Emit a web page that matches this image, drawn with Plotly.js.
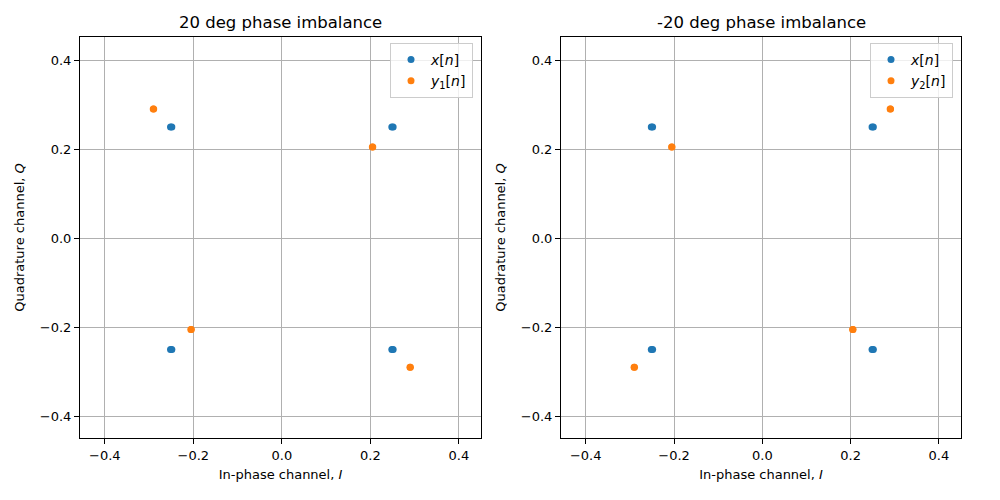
<!DOCTYPE html>
<html>
<head>
<meta charset="utf-8">
<script src="https://cdn.plot.ly/plotly-3.0.1.min.js"></script>
<style>html,body{margin:0;padding:0;background:#fff;} #chart{width:1000px;height:500px;}</style>
</head>
<body>
<div id="chart"></div>
<script>
// Reference QPSK symbols x[n]
const xI = [-0.2515, -0.2485, 0.2485, 0.2515, -0.2515, -0.2485, 0.2485, 0.2515];
const xQ = [0.25, 0.25, 0.25, 0.25, -0.25, -0.25, -0.25, -0.25];
// 20 deg phase imbalance y1[n]
const y1I = [-0.2905, -0.2895, 0.2045, 0.2055, -0.2055, -0.2045, 0.2895, 0.2905];
const y1Q = [0.29, 0.29, 0.205, 0.205, -0.205, -0.205, -0.29, -0.29];
// -20 deg phase imbalance y2[n]
const y2I = [-0.2055, -0.2045, 0.2895, 0.2905, -0.2905, -0.2895, 0.2045, 0.2055];
const y2Q = [0.205, 0.205, 0.29, 0.29, -0.29, -0.29, -0.205, -0.205];

const titles = ["20 deg phase imbalance", "-20 deg phase imbalance"];
const tickVals = [-0.4, -0.2, 0.0, 0.2, 0.4];
const tickText = ["\u22120.4", "\u22120.2", "0.0", "0.2", "0.4"];

const blue = "#1f77b4", orange = "#ff7f0e";
const font = {family: "DejaVu Sans, sans-serif", size: 13, color: "#000"};

function tr(x, y, name, color, xa, ya, leg) {
  return {x: x, y: y, type: "scatter", mode: "markers", name: name,
    marker: {color: color, size: 7}, xaxis: xa, yaxis: ya, legend: leg};
}
const data = [
  tr(xI, xQ, "<i>x</i>[<i>n</i>]", blue, "x", "y", "legend"),
  tr(y1I, y1Q, "<i>y</i><sub>1</sub>[<i>n</i>]", orange, "x", "y", "legend"),
  tr(xI, xQ, "<i>x</i>[<i>n</i>]", blue, "x2", "y2", "legend2"),
  tr(y2I, y2Q, "<i>y</i><sub>2</sub>[<i>n</i>]", orange, "x2", "y2", "legend2")
];

function ax(domain, anchor, title, standoff) {
  return {domain: domain, anchor: anchor, range: [-0.456, 0.45],
    tickvals: tickVals, ticktext: tickText, ticks: "outside", ticklen: 5, tickwidth: 1,
    tickcolor: "#000", showline: true, linecolor: "#000", linewidth: 1, mirror: true,
    showgrid: true, gridcolor: "#b0b0b0", gridwidth: 1, zeroline: false,
    tickfont: font, title: {text: title, font: font, standoff: standoff}};
}
function legendCfg(x) {
  return {x: x, y: 0.914, xanchor: "right", yanchor: "top", xref: "paper", yref: "paper",
    bgcolor: "rgba(255,255,255,0.8)", bordercolor: "#cccccc", borderwidth: 1,
    font: {family: "DejaVu Sans, sans-serif", size: 14, color: "#000"}, itemwidth: 30,
    tracegroupgap: 4};
}

const layout = {
  width: 1000, height: 500, margin: {l: 0, r: 0, t: 0, b: 0},
  paper_bgcolor: "#fff", plot_bgcolor: "#fff", showlegend: true,
  xaxis: ax([0.08, 0.481], "y", "In-phase channel, <i>I</i>", 8),
  yaxis: Object.assign(ax([0.124, 0.926], "x", "Quadrature channel, <i>Q</i>", 12), {range: [-0.449, 0.452]}),
  xaxis2: ax([0.561, 0.961], "y2", "In-phase channel, <i>I</i>", 8),
  yaxis2: Object.assign(ax([0.124, 0.926], "x2", "Quadrature channel, <i>Q</i>", 12), {range: [-0.449, 0.452]}),
  legend: legendCfg(0.473),
  legend2: legendCfg(0.953),
  annotations: [
    {text: titles[0], x: 0.2805, y: 0.956, xref: "paper", yref: "paper", xanchor: "center", yanchor: "middle",
     showarrow: false, font: {family: "DejaVu Sans, sans-serif", size: 16.5, color: "#000"}},
    {text: titles[1], x: 0.761, y: 0.956, xref: "paper", yref: "paper", xanchor: "center", yanchor: "middle",
     showarrow: false, font: {family: "DejaVu Sans, sans-serif", size: 16.5, color: "#000"}}
  ]
};
Plotly.newPlot("chart", data, layout, {staticPlot: true});
</script>
</body>
</html>
